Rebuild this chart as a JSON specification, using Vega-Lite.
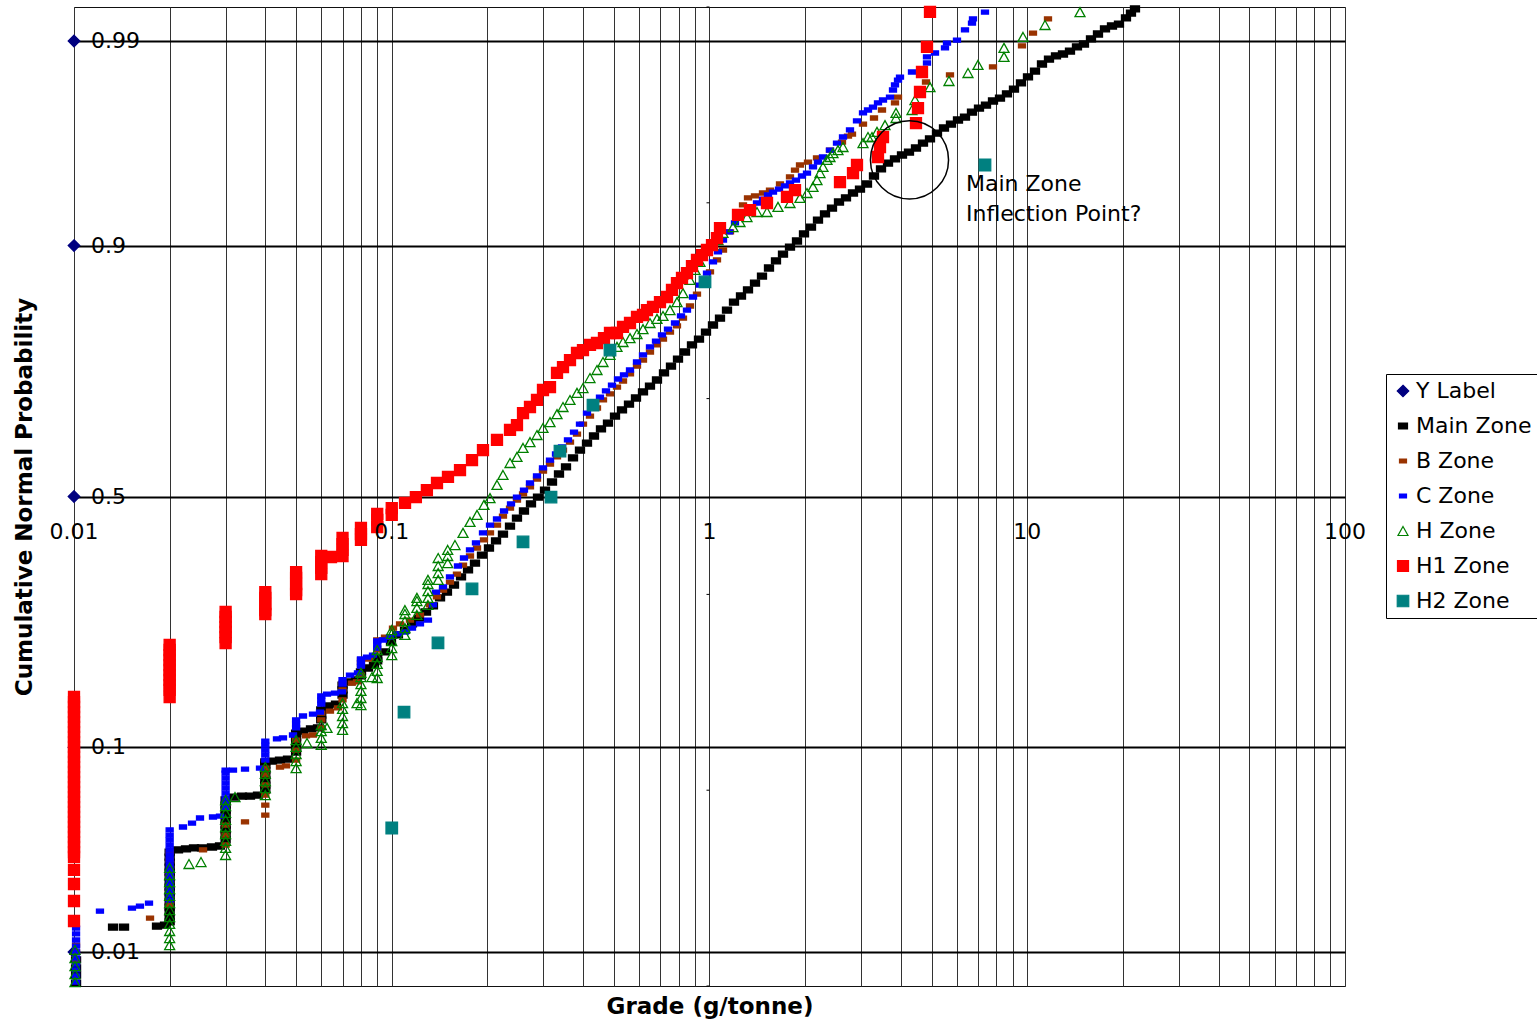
{
"$schema": "https://vega.github.io/schema/vega-lite/v6.json",
"width": 1271, "height": 979,
"autosize": {"type": "none"},
"padding": {"left": 74, "top": 7, "right": 192, "bottom": 37},
"background": "white",
"config": {"font": "DejaVu Sans", "view": {"stroke": "#111", "strokeWidth": 1}},
"datasets": {
"pts": [
{"s":"Y Label","x":0.01,"z":-2.3263},{"s":"Y Label","x":0.01,"z":-1.2816},{"s":"Y Label","x":0.01,"z":0},{"s":"Y Label","x":0.01,"z":1.2816},{"s":"Y Label","x":0.01,"z":2.3263},
{"s":"Main Zone","x":0.01015,"z":-2.485},{"s":"Main Zone","x":0.01015,"z":-2.444},{"s":"Main Zone","x":0.01015,"z":-2.408},{"s":"Main Zone","x":0.01015,"z":-2.367},
{"s":"Main Zone","x":0.01327,"z":-2.199},{"s":"Main Zone","x":0.01437,"z":-2.199},{"s":"Main Zone","x":0.01825,"z":-2.194},{"s":"Main Zone","x":0.01934,"z":-2.189},
{"s":"Main Zone","x":0.02,"z":-2.173},{"s":"Main Zone","x":0.02,"z":-2.148},{"s":"Main Zone","x":0.02,"z":-2.122},{"s":"Main Zone","x":0.02,"z":-2.097},{"s":"Main Zone","x":0.02,"z":-2.071},{"s":"Main Zone","x":0.02,"z":-2.046},{"s":"Main Zone","x":0.02,"z":-2.02},{"s":"Main Zone","x":0.02,"z":-1.995},{"s":"Main Zone","x":0.02,"z":-1.969},{"s":"Main Zone","x":0.02,"z":-1.944},{"s":"Main Zone","x":0.02,"z":-1.918},{"s":"Main Zone","x":0.02,"z":-1.893},{"s":"Main Zone","x":0.02,"z":-1.867},{"s":"Main Zone","x":0.02,"z":-1.842},{"s":"Main Zone","x":0.02,"z":-1.816},
{"s":"Main Zone","x":0.02125,"z":-1.805},{"s":"Main Zone","x":0.02251,"z":-1.8},{"s":"Main Zone","x":0.02386,"z":-1.795},{"s":"Main Zone","x":0.02528,"z":-1.795},{"s":"Main Zone","x":0.02718,"z":-1.79},{"s":"Main Zone","x":0.02881,"z":-1.785},
{"s":"Main Zone","x":0.03,"z":-1.754},{"s":"Main Zone","x":0.03,"z":-1.729},{"s":"Main Zone","x":0.03,"z":-1.703},{"s":"Main Zone","x":0.03,"z":-1.678},{"s":"Main Zone","x":0.03,"z":-1.652},{"s":"Main Zone","x":0.03,"z":-1.627},{"s":"Main Zone","x":0.03,"z":-1.601},{"s":"Main Zone","x":0.03,"z":-1.576},{"s":"Main Zone","x":0.03,"z":-1.55},
{"s":"Main Zone","x":0.03188,"z":-1.535},{"s":"Main Zone","x":0.03378,"z":-1.53},{"s":"Main Zone","x":0.0358,"z":-1.53},{"s":"Main Zone","x":0.03794,"z":-1.525},
{"s":"Main Zone","x":0.04,"z":-1.499},{"s":"Main Zone","x":0.04,"z":-1.474},{"s":"Main Zone","x":0.04,"z":-1.448},{"s":"Main Zone","x":0.04,"z":-1.423},{"s":"Main Zone","x":0.04,"z":-1.397},{"s":"Main Zone","x":0.04,"z":-1.372},{"s":"Main Zone","x":0.04,"z":-1.356},
{"s":"Main Zone","x":0.04199,"z":-1.351},{"s":"Main Zone","x":0.04449,"z":-1.346},{"s":"Main Zone","x":0.04715,"z":-1.341},
{"s":"Main Zone","x":0.05,"z":-1.305},{"s":"Main Zone","x":0.05,"z":-1.28},{"s":"Main Zone","x":0.05,"z":-1.254},{"s":"Main Zone","x":0.05,"z":-1.229},{"s":"Main Zone","x":0.05,"z":-1.208},
{"s":"Main Zone","x":0.05256,"z":-1.198},{"s":"Main Zone","x":0.0557,"z":-1.187},{"s":"Main Zone","x":0.0586,"z":-1.182},
{"s":"Main Zone","x":0.06,"z":-1.141},{"s":"Main Zone","x":0.06,"z":-1.116},{"s":"Main Zone","x":0.06,"z":-1.09},
{"s":"Main Zone","x":0.063,"z":-1.07},{"s":"Main Zone","x":0.06676,"z":-1.06},
{"s":"Main Zone","x":0.07,"z":-1.014},{"s":"Main Zone","x":0.07,"z":-0.988},{"s":"Main Zone","x":0.07,"z":-0.963},
{"s":"Main Zone","x":0.07389,"z":-0.947},{"s":"Main Zone","x":0.07718,"z":-0.937},
{"s":"Main Zone","x":0.08,"z":-0.916},{"s":"Main Zone","x":0.08,"z":-0.896},
{"s":"Main Zone","x":0.08419,"z":-0.876},{"s":"Main Zone","x":0.08793,"z":-0.861},
{"s":"Main Zone","x":0.09,"z":-0.84},{"s":"Main Zone","x":0.09,"z":-0.82},
{"s":"Main Zone","x":0.09522,"z":-0.794},{"s":"Main Zone","x":0.09946,"z":-0.743},{"s":"Main Zone","x":0.1046,"z":-0.707},{"s":"Main Zone","x":0.1101,"z":-0.682},{"s":"Main Zone","x":0.1158,"z":-0.651},{"s":"Main Zone","x":0.1218,"z":-0.621},{"s":"Main Zone","x":0.1282,"z":-0.59},{"s":"Main Zone","x":0.1348,"z":-0.559},{"s":"Main Zone","x":0.1419,"z":-0.518},{"s":"Main Zone","x":0.1492,"z":-0.488},{"s":"Main Zone","x":0.157,"z":-0.452},{"s":"Main Zone","x":0.1652,"z":-0.411},{"s":"Main Zone","x":0.1738,"z":-0.375},{"s":"Main Zone","x":0.1828,"z":-0.34},{"s":"Main Zone","x":0.1923,"z":-0.299},{"s":"Main Zone","x":0.2023,"z":-0.263},{"s":"Main Zone","x":0.2129,"z":-0.227},{"s":"Main Zone","x":0.2239,"z":-0.192},{"s":"Main Zone","x":0.2356,"z":-0.151},{"s":"Main Zone","x":0.2478,"z":-0.11},{"s":"Main Zone","x":0.2607,"z":-0.074},{"s":"Main Zone","x":0.2743,"z":-0.038},{"s":"Main Zone","x":0.2886,"z":-0.003},{"s":"Main Zone","x":0.3036,"z":0.033},{"s":"Main Zone","x":0.3194,"z":0.074},{"s":"Main Zone","x":0.336,"z":0.115},{"s":"Main Zone","x":0.3535,"z":0.151},{"s":"Main Zone","x":0.3719,"z":0.197},{"s":"Main Zone","x":0.3912,"z":0.237},{"s":"Main Zone","x":0.4116,"z":0.273},{"s":"Main Zone","x":0.433,"z":0.309},{"s":"Main Zone","x":0.4555,"z":0.345},{"s":"Main Zone","x":0.4792,"z":0.375},{"s":"Main Zone","x":0.5042,"z":0.411},{"s":"Main Zone","x":0.5304,"z":0.442},{"s":"Main Zone","x":0.558,"z":0.472},{"s":"Main Zone","x":0.587,"z":0.503},{"s":"Main Zone","x":0.6176,"z":0.534},{"s":"Main Zone","x":0.6497,"z":0.564},{"s":"Main Zone","x":0.6835,"z":0.595},{"s":"Main Zone","x":0.7191,"z":0.631},{"s":"Main Zone","x":0.7565,"z":0.666},{"s":"Main Zone","x":0.7959,"z":0.702},{"s":"Main Zone","x":0.8373,"z":0.738},{"s":"Main Zone","x":0.8808,"z":0.774},{"s":"Main Zone","x":0.9267,"z":0.804},{"s":"Main Zone","x":0.9749,"z":0.84},{"s":"Main Zone","x":1.0256,"z":0.876},{"s":"Main Zone","x":1.0791,"z":0.911},{"s":"Main Zone","x":1.1352,"z":0.952},{"s":"Main Zone","x":1.1943,"z":0.993},{"s":"Main Zone","x":1.2564,"z":1.024},{"s":"Main Zone","x":1.3218,"z":1.055},{"s":"Main Zone","x":1.3906,"z":1.09},{"s":"Main Zone","x":1.4629,"z":1.126},{"s":"Main Zone","x":1.539,"z":1.167},{"s":"Main Zone","x":1.6191,"z":1.203},{"s":"Main Zone","x":1.7034,"z":1.238},{"s":"Main Zone","x":1.792,"z":1.274},{"s":"Main Zone","x":1.8852,"z":1.305},{"s":"Main Zone","x":1.9833,"z":1.341},{"s":"Main Zone","x":2.0866,"z":1.376},{"s":"Main Zone","x":2.1951,"z":1.412},{"s":"Main Zone","x":2.3093,"z":1.443},{"s":"Main Zone","x":2.4295,"z":1.473},{"s":"Main Zone","x":2.5558,"z":1.504},{"s":"Main Zone","x":2.6888,"z":1.525},{"s":"Main Zone","x":2.8288,"z":1.55},{"s":"Main Zone","x":2.976,"z":1.57},{"s":"Main Zone","x":3.1308,"z":1.596},{"s":"Main Zone","x":3.2937,"z":1.637},{"s":"Main Zone","x":3.4652,"z":1.673},{"s":"Main Zone","x":3.6454,"z":1.703},{"s":"Main Zone","x":3.8351,"z":1.724},{"s":"Main Zone","x":4.0346,"z":1.744},{"s":"Main Zone","x":4.2444,"z":1.759},{"s":"Main Zone","x":4.4653,"z":1.78},{"s":"Main Zone","x":4.6978,"z":1.805},{"s":"Main Zone","x":4.9422,"z":1.826},{"s":"Main Zone","x":5.1992,"z":1.856},{"s":"Main Zone","x":5.4698,"z":1.882},{"s":"Main Zone","x":5.7546,"z":1.902},{"s":"Main Zone","x":6.0539,"z":1.923},{"s":"Main Zone","x":6.3689,"z":1.938},{"s":"Main Zone","x":6.7003,"z":1.963},{"s":"Main Zone","x":7.0488,"z":1.984},{"s":"Main Zone","x":7.4155,"z":1.999},{"s":"Main Zone","x":7.8016,"z":2.02},{"s":"Main Zone","x":8.2075,"z":2.035},{"s":"Main Zone","x":8.6344,"z":2.056},{"s":"Main Zone","x":9.0838,"z":2.081},{"s":"Main Zone","x":9.5568,"z":2.112},{"s":"Main Zone","x":10.054,"z":2.143},{"s":"Main Zone","x":10.577,"z":2.173},{"s":"Main Zone","x":11.127,"z":2.209},{"s":"Main Zone","x":11.706,"z":2.234},{"s":"Main Zone","x":12.315,"z":2.25},{"s":"Main Zone","x":12.956,"z":2.26},{"s":"Main Zone","x":13.63,"z":2.275},{"s":"Main Zone","x":14.339,"z":2.296},{"s":"Main Zone","x":15.085,"z":2.311},{"s":"Main Zone","x":15.871,"z":2.337},{"s":"Main Zone","x":16.696,"z":2.362},{"s":"Main Zone","x":17.565,"z":2.388},{"s":"Main Zone","x":18.479,"z":2.403},{"s":"Main Zone","x":19.44,"z":2.413},{"s":"Main Zone","x":20.451,"z":2.444},{"s":"Main Zone","x":21.207,"z":2.469},{"s":"Main Zone","x":21.83,"z":2.49},
{"s":"B Zone","x":0.01015,"z":-2.291},{"s":"B Zone","x":0.01015,"z":-2.326},{"s":"B Zone","x":0.01015,"z":-2.367},{"s":"B Zone","x":0.01735,"z":-2.153},
{"s":"B Zone","x":0.02,"z":-2.086},{"s":"B Zone","x":0.02,"z":-2.01},{"s":"B Zone","x":0.02,"z":-1.933},{"s":"B Zone","x":0.02,"z":-1.856},{"s":"B Zone","x":0.02,"z":-1.816},{"s":"B Zone","x":0.02547,"z":-1.805},
{"s":"B Zone","x":0.03,"z":-1.78},{"s":"B Zone","x":0.03,"z":-1.729},{"s":"B Zone","x":0.03,"z":-1.678},{"s":"B Zone","x":0.03453,"z":-1.662},
{"s":"B Zone","x":0.04,"z":-1.627},{"s":"B Zone","x":0.04,"z":-1.576},{"s":"B Zone","x":0.04,"z":-1.525},{"s":"B Zone","x":0.04,"z":-1.473},{"s":"B Zone","x":0.04,"z":-1.422},{"s":"B Zone","x":0.04,"z":-1.387},{"s":"B Zone","x":0.04449,"z":-1.382},{"s":"B Zone","x":0.04647,"z":-1.376},
{"s":"B Zone","x":0.05,"z":-1.346},{"s":"B Zone","x":0.05,"z":-1.295},{"s":"B Zone","x":0.05,"z":-1.244},{"s":"B Zone","x":0.05372,"z":-1.223},{"s":"B Zone","x":0.05651,"z":-1.218},
{"s":"B Zone","x":0.06,"z":-1.182},{"s":"B Zone","x":0.06,"z":-1.141},{"s":"B Zone","x":0.06,"z":-1.106},{"s":"B Zone","x":0.06392,"z":-1.096},{"s":"B Zone","x":0.06774,"z":-1.08},
{"s":"B Zone","x":0.07,"z":-1.039},{"s":"B Zone","x":0.07,"z":-0.988},{"s":"B Zone","x":0.07,"z":-0.953},{"s":"B Zone","x":0.07496,"z":-0.953},{"s":"B Zone","x":0.07774,"z":-0.947},
{"s":"B Zone","x":0.08,"z":-0.912},{"s":"B Zone","x":0.08,"z":-0.861},{"s":"B Zone","x":0.08,"z":-0.835},{"s":"B Zone","x":0.0848,"z":-0.83},
{"s":"B Zone","x":0.09,"z":-0.784},{"s":"B Zone","x":0.09,"z":-0.733},
{"s":"B Zone","x":0.09522,"z":-0.718},{"s":"B Zone","x":0.1009,"z":-0.672},{"s":"B Zone","x":0.1062,"z":-0.651},{"s":"B Zone","x":0.1141,"z":-0.631},{"s":"B Zone","x":0.1227,"z":-0.605},{"s":"B Zone","x":0.1319,"z":-0.554},{"s":"B Zone","x":0.1388,"z":-0.513},{"s":"B Zone","x":0.145,"z":-0.478},{"s":"B Zone","x":0.1525,"z":-0.437},{"s":"B Zone","x":0.1604,"z":-0.396},{"s":"B Zone","x":0.1676,"z":-0.35},{"s":"B Zone","x":0.1763,"z":-0.304},{"s":"B Zone","x":0.1855,"z":-0.263},{"s":"B Zone","x":0.1951,"z":-0.222},{"s":"B Zone","x":0.2038,"z":-0.186},{"s":"B Zone","x":0.2144,"z":-0.146},{"s":"B Zone","x":0.2239,"z":-0.1},{"s":"B Zone","x":0.2356,"z":-0.059},{"s":"B Zone","x":0.2478,"z":-0.018},{"s":"B Zone","x":0.2589,"z":0.013},{"s":"B Zone","x":0.2723,"z":0.049},{"s":"B Zone","x":0.2865,"z":0.089},{"s":"B Zone","x":0.2992,"z":0.13},{"s":"B Zone","x":0.3148,"z":0.166},{"s":"B Zone","x":0.3312,"z":0.202},{"s":"B Zone","x":0.3459,"z":0.237},{"s":"B Zone","x":0.3639,"z":0.278},{"s":"B Zone","x":0.3828,"z":0.319},{"s":"B Zone","x":0.3998,"z":0.37},{"s":"B Zone","x":0.4206,"z":0.411},{"s":"B Zone","x":0.4425,"z":0.452},{"s":"B Zone","x":0.4622,"z":0.493},{"s":"B Zone","x":0.4862,"z":0.524},{"s":"B Zone","x":0.5115,"z":0.559},{"s":"B Zone","x":0.5343,"z":0.59},{"s":"B Zone","x":0.5621,"z":0.626},{"s":"B Zone","x":0.5913,"z":0.666},{"s":"B Zone","x":0.6176,"z":0.697},{"s":"B Zone","x":0.6497,"z":0.738},{"s":"B Zone","x":0.6835,"z":0.774},{"s":"B Zone","x":0.7139,"z":0.804},{"s":"B Zone","x":0.751,"z":0.84},{"s":"B Zone","x":0.7901,"z":0.871},{"s":"B Zone","x":0.8252,"z":0.911},{"s":"B Zone","x":0.8682,"z":0.973},{"s":"B Zone","x":0.9133,"z":1.034},{"s":"B Zone","x":0.954,"z":1.085},{"s":"B Zone","x":1.0036,"z":1.147},{"s":"B Zone","x":1.0558,"z":1.208},{"s":"B Zone","x":1.1028,"z":1.259},{"s":"B Zone","x":1.1601,"z":1.351},{"s":"B Zone","x":1.2205,"z":1.453},{"s":"B Zone","x":1.2748,"z":1.489},{"s":"B Zone","x":1.3218,"z":1.525},{"s":"B Zone","x":1.3906,"z":1.535},{"s":"B Zone","x":1.4736,"z":1.55},{"s":"B Zone","x":1.5502,"z":1.565},{"s":"B Zone","x":1.6667,"z":1.596},{"s":"B Zone","x":1.792,"z":1.632},{"s":"B Zone","x":1.8581,"z":1.667},{"s":"B Zone","x":1.9267,"z":1.693},{"s":"B Zone","x":2.0416,"z":1.708},{"s":"B Zone","x":2.1792,"z":1.729},{"s":"B Zone","x":2.3945,"z":1.769},{"s":"B Zone","x":2.612,"z":1.81},{"s":"B Zone","x":2.7281,"z":1.841},{"s":"B Zone","x":2.8083,"z":1.851},{"s":"B Zone","x":3.0414,"z":1.902},{"s":"B Zone","x":3.2937,"z":1.933},{"s":"B Zone","x":3.4903,"z":1.974},{"s":"B Zone","x":3.8351,"z":2.01},{"s":"B Zone","x":3.9194,"z":2.04},{"s":"B Zone","x":4.8011,"z":2.117},{"s":"B Zone","x":5.7129,"z":2.153},{"s":"B Zone","x":7.8016,"z":2.194},{"s":"B Zone","x":9.626,"z":2.301},{"s":"B Zone","x":10.425,"z":2.367},{"s":"B Zone","x":11.622,"z":2.439},
{"s":"C Zone","x":0.01015,"z":-2.204},{"s":"C Zone","x":0.01015,"z":-2.234},{"s":"C Zone","x":0.01015,"z":-2.265},{"s":"C Zone","x":0.01015,"z":-2.296},{"s":"C Zone","x":0.01015,"z":-2.326},{"s":"C Zone","x":0.01015,"z":-2.357},{"s":"C Zone","x":0.01015,"z":-2.388},{"s":"C Zone","x":0.01015,"z":-2.418},{"s":"C Zone","x":0.01015,"z":-2.449},{"s":"C Zone","x":0.01015,"z":-2.48},
{"s":"C Zone","x":0.01207,"z":-2.118},{"s":"C Zone","x":0.01522,"z":-2.102},{"s":"C Zone","x":0.01613,"z":-2.092},{"s":"C Zone","x":0.01722,"z":-2.077},
{"s":"C Zone","x":0.02,"z":-2.061},{"s":"C Zone","x":0.02,"z":-2.035},{"s":"C Zone","x":0.02,"z":-2.01},{"s":"C Zone","x":0.02,"z":-1.984},{"s":"C Zone","x":0.02,"z":-1.959},{"s":"C Zone","x":0.02,"z":-1.933},{"s":"C Zone","x":0.02,"z":-1.908},{"s":"C Zone","x":0.02,"z":-1.882},{"s":"C Zone","x":0.02,"z":-1.856},{"s":"C Zone","x":0.02,"z":-1.831},{"s":"C Zone","x":0.02,"z":-1.805},{"s":"C Zone","x":0.02,"z":-1.78},{"s":"C Zone","x":0.02,"z":-1.754},{"s":"C Zone","x":0.02,"z":-1.729},{"s":"C Zone","x":0.02,"z":-1.703},
{"s":"C Zone","x":0.02203,"z":-1.688},{"s":"C Zone","x":0.02352,"z":-1.668},{"s":"C Zone","x":0.02492,"z":-1.642},{"s":"C Zone","x":0.02738,"z":-1.637},{"s":"C Zone","x":0.02881,"z":-1.632},
{"s":"C Zone","x":0.03,"z":-1.591},{"s":"C Zone","x":0.03,"z":-1.566},{"s":"C Zone","x":0.03,"z":-1.54},{"s":"C Zone","x":0.03,"z":-1.515},{"s":"C Zone","x":0.03,"z":-1.489},{"s":"C Zone","x":0.03,"z":-1.464},{"s":"C Zone","x":0.03,"z":-1.438},{"s":"C Zone","x":0.03,"z":-1.413},{"s":"C Zone","x":0.03,"z":-1.397},
{"s":"C Zone","x":0.03165,"z":-1.397},{"s":"C Zone","x":0.03453,"z":-1.392},{"s":"C Zone","x":0.03849,"z":-1.387},
{"s":"C Zone","x":0.04,"z":-1.346},{"s":"C Zone","x":0.04,"z":-1.32},{"s":"C Zone","x":0.04,"z":-1.295},{"s":"C Zone","x":0.04,"z":-1.27},{"s":"C Zone","x":0.04,"z":-1.249},
{"s":"C Zone","x":0.04353,"z":-1.238},{"s":"C Zone","x":0.04547,"z":-1.233},{"s":"C Zone","x":0.04889,"z":-1.218},
{"s":"C Zone","x":0.05,"z":-1.182},{"s":"C Zone","x":0.05,"z":-1.162},{"s":"C Zone","x":0.05,"z":-1.141},
{"s":"C Zone","x":0.05256,"z":-1.121},{"s":"C Zone","x":0.05651,"z":-1.111},{"s":"C Zone","x":0.05946,"z":-1.101},
{"s":"C Zone","x":0.06,"z":-1.06},{"s":"C Zone","x":0.06,"z":-1.04},{"s":"C Zone","x":0.06,"z":-1.019},
{"s":"C Zone","x":0.06255,"z":-1.009},{"s":"C Zone","x":0.06628,"z":-1.004},{"s":"C Zone","x":0.06973,"z":-0.998},
{"s":"C Zone","x":0.07,"z":-0.958},{"s":"C Zone","x":0.07,"z":-0.935},
{"s":"C Zone","x":0.07389,"z":-0.912},{"s":"C Zone","x":0.0783,"z":-0.901},
{"s":"C Zone","x":0.08,"z":-0.866},{"s":"C Zone","x":0.08,"z":-0.848},{"s":"C Zone","x":0.08,"z":-0.83},
{"s":"C Zone","x":0.08358,"z":-0.82},{"s":"C Zone","x":0.0873,"z":-0.81},
{"s":"C Zone","x":0.09,"z":-0.774},{"s":"C Zone","x":0.09,"z":-0.756},{"s":"C Zone","x":0.09,"z":-0.738},
{"s":"C Zone","x":0.09386,"z":-0.733},{"s":"C Zone","x":0.09874,"z":-0.718},{"s":"C Zone","x":0.1046,"z":-0.702},{"s":"C Zone","x":0.1101,"z":-0.692},{"s":"C Zone","x":0.1158,"z":-0.672},{"s":"C Zone","x":0.1227,"z":-0.651},{"s":"C Zone","x":0.13,"z":-0.631},{"s":"C Zone","x":0.1348,"z":-0.554},{"s":"C Zone","x":0.1378,"z":-0.488},{"s":"C Zone","x":0.145,"z":-0.462},{"s":"C Zone","x":0.1525,"z":-0.411},{"s":"C Zone","x":0.1616,"z":-0.355},{"s":"C Zone","x":0.1688,"z":-0.314},{"s":"C Zone","x":0.1763,"z":-0.273},{"s":"C Zone","x":0.1841,"z":-0.237},{"s":"C Zone","x":0.1937,"z":-0.186},{"s":"C Zone","x":0.2038,"z":-0.146},{"s":"C Zone","x":0.2144,"z":-0.115},{"s":"C Zone","x":0.2256,"z":-0.074},{"s":"C Zone","x":0.2373,"z":-0.038},{"s":"C Zone","x":0.2478,"z":-0.003},{"s":"C Zone","x":0.2607,"z":0.033},{"s":"C Zone","x":0.2723,"z":0.069},{"s":"C Zone","x":0.2865,"z":0.105},{"s":"C Zone","x":0.2992,"z":0.146},{"s":"C Zone","x":0.3148,"z":0.186},{"s":"C Zone","x":0.3288,"z":0.217},{"s":"C Zone","x":0.3434,"z":0.253},{"s":"C Zone","x":0.3586,"z":0.289},{"s":"C Zone","x":0.3746,"z":0.329},{"s":"C Zone","x":0.3912,"z":0.37},{"s":"C Zone","x":0.4116,"z":0.426},{"s":"C Zone","x":0.4299,"z":0.467},{"s":"C Zone","x":0.4522,"z":0.508},{"s":"C Zone","x":0.4723,"z":0.539},{"s":"C Zone","x":0.4933,"z":0.569},{"s":"C Zone","x":0.5153,"z":0.6},{"s":"C Zone","x":0.5381,"z":0.621},{"s":"C Zone","x":0.5621,"z":0.646},{"s":"C Zone","x":0.5913,"z":0.687},{"s":"C Zone","x":0.6176,"z":0.723},{"s":"C Zone","x":0.6497,"z":0.764},{"s":"C Zone","x":0.6786,"z":0.794},{"s":"C Zone","x":0.7087,"z":0.825},{"s":"C Zone","x":0.7402,"z":0.855},{"s":"C Zone","x":0.7788,"z":0.886},{"s":"C Zone","x":0.8134,"z":0.922},{"s":"C Zone","x":0.8495,"z":0.952},{"s":"C Zone","x":0.8873,"z":1.019},{"s":"C Zone","x":0.9334,"z":1.08},{"s":"C Zone","x":0.982,"z":1.141},{"s":"C Zone","x":1.0256,"z":1.198},{"s":"C Zone","x":1.0635,"z":1.249},{"s":"C Zone","x":1.1028,"z":1.31},{"s":"C Zone","x":1.1517,"z":1.351},{"s":"C Zone","x":1.203,"z":1.397},{"s":"C Zone","x":1.2473,"z":1.427},{"s":"C Zone","x":1.3028,"z":1.453},{"s":"C Zone","x":1.3607,"z":1.479},{"s":"C Zone","x":1.4108,"z":1.499},{"s":"C Zone","x":1.4736,"z":1.519},{"s":"C Zone","x":1.5279,"z":1.54},{"s":"C Zone","x":1.5843,"z":1.555},{"s":"C Zone","x":1.6547,"z":1.57},{"s":"C Zone","x":1.7282,"z":1.586},{"s":"C Zone","x":1.792,"z":1.601},{"s":"C Zone","x":1.8716,"z":1.616},{"s":"C Zone","x":1.9548,"z":1.637},{"s":"C Zone","x":2.0269,"z":1.652},{"s":"C Zone","x":2.117,"z":1.683},{"s":"C Zone","x":2.1951,"z":1.708},{"s":"C Zone","x":2.2761,"z":1.734},{"s":"C Zone","x":2.3945,"z":1.769},{"s":"C Zone","x":2.5191,"z":1.805},{"s":"C Zone","x":2.6311,"z":1.836},{"s":"C Zone","x":2.7679,"z":1.872},{"s":"C Zone","x":2.9119,"z":1.918},{"s":"C Zone","x":3.0414,"z":1.959},{"s":"C Zone","x":3.1536,"z":1.974},{"s":"C Zone","x":3.27,"z":1.989},{"s":"C Zone","x":3.3906,"z":2.01},{"s":"C Zone","x":3.5157,"z":2.025},{"s":"C Zone","x":3.6986,"z":2.04},{"s":"C Zone","x":3.78,"z":2.076},{"s":"C Zone","x":3.8351,"z":2.102},{"s":"C Zone","x":3.9194,"z":2.127},{"s":"C Zone","x":3.9766,"z":2.142},{"s":"C Zone","x":4.3378,"z":2.168},{"s":"C Zone","x":4.8358,"z":2.214},{"s":"C Zone","x":4.8358,"z":2.245},{"s":"C Zone","x":5.1246,"z":2.265},{"s":"C Zone","x":5.5096,"z":2.291},{"s":"C Zone","x":5.5899,"z":2.316},{"s":"C Zone","x":6.0101,"z":2.331},{"s":"C Zone","x":6.3689,"z":2.383},{"s":"C Zone","x":6.7003,"z":2.418},{"s":"C Zone","x":6.7491,"z":2.439},{"s":"C Zone","x":7.3622,"z":2.474},
{"s":"H Zone","x":0.01007,"z":-2.316},{"s":"H Zone","x":0.01007,"z":-2.357},{"s":"H Zone","x":0.01007,"z":-2.398},{"s":"H Zone","x":0.01007,"z":-2.439},{"s":"H Zone","x":0.01007,"z":-2.48},
{"s":"H Zone","x":0.02,"z":-2.291},{"s":"H Zone","x":0.02,"z":-2.255},{"s":"H Zone","x":0.02,"z":-2.219},{"s":"H Zone","x":0.02,"z":-2.183},{"s":"H Zone","x":0.02,"z":-2.148},{"s":"H Zone","x":0.02,"z":-2.112},{"s":"H Zone","x":0.02,"z":-2.076},{"s":"H Zone","x":0.02,"z":-2.04},{"s":"H Zone","x":0.02,"z":-2.005},{"s":"H Zone","x":0.02,"z":-1.969},{"s":"H Zone","x":0.02,"z":-1.933},{"s":"H Zone","x":0.02,"z":-1.897},
{"s":"H Zone","x":0.02301,"z":-1.877},{"s":"H Zone","x":0.0251,"z":-1.867},
{"s":"H Zone","x":0.03,"z":-1.831},{"s":"H Zone","x":0.03,"z":-1.795},{"s":"H Zone","x":0.03,"z":-1.759},{"s":"H Zone","x":0.03,"z":-1.724},{"s":"H Zone","x":0.03,"z":-1.688},{"s":"H Zone","x":0.03,"z":-1.652},{"s":"H Zone","x":0.03,"z":-1.616},{"s":"H Zone","x":0.03,"z":-1.581},{"s":"H Zone","x":0.03,"z":-1.55},
{"s":"H Zone","x":0.03211,"z":-1.535},
{"s":"H Zone","x":0.04,"z":-1.525},{"s":"H Zone","x":0.04,"z":-1.489},{"s":"H Zone","x":0.04,"z":-1.453},{"s":"H Zone","x":0.04,"z":-1.417},{"s":"H Zone","x":0.04,"z":-1.382},
{"s":"H Zone","x":0.05,"z":-1.387},{"s":"H Zone","x":0.05,"z":-1.351},{"s":"H Zone","x":0.05,"z":-1.315},{"s":"H Zone","x":0.05,"z":-1.279},{"s":"H Zone","x":0.05,"z":-1.244},
{"s":"H Zone","x":0.05411,"z":-1.259},
{"s":"H Zone","x":0.06,"z":-1.269},{"s":"H Zone","x":0.06,"z":-1.233},{"s":"H Zone","x":0.06,"z":-1.198},{"s":"H Zone","x":0.06,"z":-1.167},
{"s":"H Zone","x":0.06255,"z":-1.182},
{"s":"H Zone","x":0.07,"z":-1.192},{"s":"H Zone","x":0.07,"z":-1.157},{"s":"H Zone","x":0.07,"z":-1.121},{"s":"H Zone","x":0.07,"z":-1.085},{"s":"H Zone","x":0.07,"z":-1.055},
{"s":"H Zone","x":0.07774,"z":-1.055},
{"s":"H Zone","x":0.08,"z":-1.065},{"s":"H Zone","x":0.08,"z":-1.029},{"s":"H Zone","x":0.08,"z":-0.993},{"s":"H Zone","x":0.08,"z":-0.958},{"s":"H Zone","x":0.08,"z":-0.922},{"s":"H Zone","x":0.08,"z":-0.901},
{"s":"H Zone","x":0.08666,"z":-0.922},
{"s":"H Zone","x":0.09,"z":-0.927},{"s":"H Zone","x":0.09,"z":-0.891},{"s":"H Zone","x":0.09,"z":-0.855},{"s":"H Zone","x":0.09,"z":-0.82},{"s":"H Zone","x":0.09,"z":-0.784},
{"s":"H Zone","x":0.1,"z":-0.81},{"s":"H Zone","x":0.1,"z":-0.774},{"s":"H Zone","x":0.1,"z":-0.738},{"s":"H Zone","x":0.1,"z":-0.702},{"s":"H Zone","x":0.1,"z":-0.682},
{"s":"H Zone","x":0.11,"z":-0.707},{"s":"H Zone","x":0.11,"z":-0.672},{"s":"H Zone","x":0.11,"z":-0.636},{"s":"H Zone","x":0.11,"z":-0.6},{"s":"H Zone","x":0.11,"z":-0.58},
{"s":"H Zone","x":0.12,"z":-0.605},{"s":"H Zone","x":0.12,"z":-0.569},{"s":"H Zone","x":0.12,"z":-0.534},{"s":"H Zone","x":0.12,"z":-0.518},
{"s":"H Zone","x":0.13,"z":-0.554},{"s":"H Zone","x":0.13,"z":-0.518},{"s":"H Zone","x":0.13,"z":-0.483},{"s":"H Zone","x":0.13,"z":-0.447},{"s":"H Zone","x":0.13,"z":-0.426},
{"s":"H Zone","x":0.14,"z":-0.426},{"s":"H Zone","x":0.14,"z":-0.391},{"s":"H Zone","x":0.14,"z":-0.355},{"s":"H Zone","x":0.14,"z":-0.314},
{"s":"H Zone","x":0.15,"z":-0.34},{"s":"H Zone","x":0.15,"z":-0.304},{"s":"H Zone","x":0.15,"z":-0.273},
{"s":"H Zone","x":0.1581,"z":-0.248},{"s":"H Zone","x":0.1676,"z":-0.186},{"s":"H Zone","x":0.1763,"z":-0.13},{"s":"H Zone","x":0.1855,"z":-0.094},{"s":"H Zone","x":0.1951,"z":-0.043},{"s":"H Zone","x":0.2038,"z":-0.008},{"s":"H Zone","x":0.2144,"z":0.059},{"s":"H Zone","x":0.2239,"z":0.11},{"s":"H Zone","x":0.2356,"z":0.171},{"s":"H Zone","x":0.2478,"z":0.202},{"s":"H Zone","x":0.2589,"z":0.248},{"s":"H Zone","x":0.2723,"z":0.278},{"s":"H Zone","x":0.2865,"z":0.314},{"s":"H Zone","x":0.2992,"z":0.35},{"s":"H Zone","x":0.3148,"z":0.38},{"s":"H Zone","x":0.3312,"z":0.421},{"s":"H Zone","x":0.3459,"z":0.457},{"s":"H Zone","x":0.3639,"z":0.493},{"s":"H Zone","x":0.3828,"z":0.529},{"s":"H Zone","x":0.3998,"z":0.554},{"s":"H Zone","x":0.4206,"z":0.605},{"s":"H Zone","x":0.4425,"z":0.646},{"s":"H Zone","x":0.4622,"z":0.687},{"s":"H Zone","x":0.4862,"z":0.723},{"s":"H Zone","x":0.5115,"z":0.764},{"s":"H Zone","x":0.5343,"z":0.789},{"s":"H Zone","x":0.5621,"z":0.809},{"s":"H Zone","x":0.5913,"z":0.83},{"s":"H Zone","x":0.6176,"z":0.855},{"s":"H Zone","x":0.6497,"z":0.886},{"s":"H Zone","x":0.6835,"z":0.907},{"s":"H Zone","x":0.7139,"z":0.922},{"s":"H Zone","x":0.751,"z":0.952},{"s":"H Zone","x":0.7901,"z":0.993},{"s":"H Zone","x":0.8252,"z":1.039},{"s":"H Zone","x":0.8682,"z":1.106},{"s":"H Zone","x":0.9002,"z":1.157},{"s":"H Zone","x":0.9334,"z":1.198},{"s":"H Zone","x":0.982,"z":1.259},{"s":"H Zone","x":1.0256,"z":1.284},{"s":"H Zone","x":1.0635,"z":1.31},{"s":"H Zone","x":1.1028,"z":1.346},{"s":"H Zone","x":1.1857,"z":1.376},{"s":"H Zone","x":1.2473,"z":1.402},{"s":"H Zone","x":1.3122,"z":1.427},{"s":"H Zone","x":1.4108,"z":1.453},{"s":"H Zone","x":1.5169,"z":1.453},{"s":"H Zone","x":1.6427,"z":1.479},{"s":"H Zone","x":1.792,"z":1.499},{"s":"H Zone","x":1.9267,"z":1.525},{"s":"H Zone","x":2.0269,"z":1.55},{"s":"H Zone","x":2.117,"z":1.581},{"s":"H Zone","x":2.1792,"z":1.616},{"s":"H Zone","x":2.2271,"z":1.652},{"s":"H Zone","x":2.2761,"z":1.683},{"s":"H Zone","x":2.343,"z":1.719},{"s":"H Zone","x":2.3945,"z":1.734},{"s":"H Zone","x":2.4472,"z":1.754},{"s":"H Zone","x":2.5374,"z":1.769},{"s":"H Zone","x":2.6311,"z":1.785},{"s":"H Zone","x":3.0414,"z":1.805},{"s":"H Zone","x":3.1536,"z":1.836},{"s":"H Zone","x":3.2463,"z":1.836},{"s":"H Zone","x":3.366,"z":1.862},{"s":"H Zone","x":3.567,"z":1.897},{"s":"H Zone","x":3.8629,"z":1.933},{"s":"H Zone","x":3.8629,"z":1.959},{"s":"H Zone","x":4.3378,"z":1.974},{"s":"H Zone","x":4.4332,"z":2.025},{"s":"H Zone","x":4.9422,"z":2.091},{"s":"H Zone","x":5.6715,"z":2.122},{"s":"H Zone","x":6.5089,"z":2.163},{"s":"H Zone","x":6.998,"z":2.204},{"s":"H Zone","x":8.449,"z":2.245},{"s":"H Zone","x":8.449,"z":2.291},{"s":"H Zone","x":9.6961,"z":2.347},{"s":"H Zone","x":11.372,"z":2.408},{"s":"H Zone","x":14.655,"z":2.474},
{"s":"H1 Zone","x":0.01,"z":-1.024},{"s":"H1 Zone","x":0.01,"z":-1.05},{"s":"H1 Zone","x":0.01,"z":-1.075},{"s":"H1 Zone","x":0.01,"z":-1.101},{"s":"H1 Zone","x":0.01,"z":-1.126},{"s":"H1 Zone","x":0.01,"z":-1.152},{"s":"H1 Zone","x":0.01,"z":-1.177},{"s":"H1 Zone","x":0.01,"z":-1.203},{"s":"H1 Zone","x":0.01,"z":-1.228},{"s":"H1 Zone","x":0.01,"z":-1.254},{"s":"H1 Zone","x":0.01,"z":-1.279},{"s":"H1 Zone","x":0.01,"z":-1.305},{"s":"H1 Zone","x":0.01,"z":-1.33},{"s":"H1 Zone","x":0.01,"z":-1.356},{"s":"H1 Zone","x":0.01,"z":-1.382},{"s":"H1 Zone","x":0.01,"z":-1.407},{"s":"H1 Zone","x":0.01,"z":-1.433},{"s":"H1 Zone","x":0.01,"z":-1.458},{"s":"H1 Zone","x":0.01,"z":-1.484},{"s":"H1 Zone","x":0.01,"z":-1.509},{"s":"H1 Zone","x":0.01,"z":-1.535},{"s":"H1 Zone","x":0.01,"z":-1.56},{"s":"H1 Zone","x":0.01,"z":-1.586},{"s":"H1 Zone","x":0.01,"z":-1.611},{"s":"H1 Zone","x":0.01,"z":-1.637},{"s":"H1 Zone","x":0.01,"z":-1.662},{"s":"H1 Zone","x":0.01,"z":-1.688},{"s":"H1 Zone","x":0.01,"z":-1.713},{"s":"H1 Zone","x":0.01,"z":-1.739},{"s":"H1 Zone","x":0.01,"z":-1.765},{"s":"H1 Zone","x":0.01,"z":-1.79},{"s":"H1 Zone","x":0.01,"z":-1.816},{"s":"H1 Zone","x":0.01,"z":-1.841},{"s":"H1 Zone","x":0.01,"z":-1.907},{"s":"H1 Zone","x":0.01,"z":-1.979},{"s":"H1 Zone","x":0.01,"z":-2.066},{"s":"H1 Zone","x":0.01,"z":-2.168},
{"s":"H1 Zone","x":0.02,"z":-0.758},{"s":"H1 Zone","x":0.02,"z":-0.784},{"s":"H1 Zone","x":0.02,"z":-0.81},{"s":"H1 Zone","x":0.02,"z":-0.835},{"s":"H1 Zone","x":0.02,"z":-0.861},{"s":"H1 Zone","x":0.02,"z":-0.886},{"s":"H1 Zone","x":0.02,"z":-0.912},{"s":"H1 Zone","x":0.02,"z":-0.937},{"s":"H1 Zone","x":0.02,"z":-0.963},{"s":"H1 Zone","x":0.02,"z":-0.988},{"s":"H1 Zone","x":0.02,"z":-1.024},
{"s":"H1 Zone","x":0.03,"z":-0.59},{"s":"H1 Zone","x":0.03,"z":-0.615},{"s":"H1 Zone","x":0.03,"z":-0.641},{"s":"H1 Zone","x":0.03,"z":-0.667},{"s":"H1 Zone","x":0.03,"z":-0.692},{"s":"H1 Zone","x":0.03,"z":-0.718},{"s":"H1 Zone","x":0.03,"z":-0.749},
{"s":"H1 Zone","x":0.04,"z":-0.488},{"s":"H1 Zone","x":0.04,"z":-0.518},{"s":"H1 Zone","x":0.04,"z":-0.549},{"s":"H1 Zone","x":0.04,"z":-0.58},{"s":"H1 Zone","x":0.04,"z":-0.6},
{"s":"H1 Zone","x":0.05,"z":-0.386},{"s":"H1 Zone","x":0.05,"z":-0.416},{"s":"H1 Zone","x":0.05,"z":-0.447},{"s":"H1 Zone","x":0.05,"z":-0.478},{"s":"H1 Zone","x":0.05,"z":-0.498},
{"s":"H1 Zone","x":0.06,"z":-0.304},{"s":"H1 Zone","x":0.06,"z":-0.335},{"s":"H1 Zone","x":0.06,"z":-0.365},{"s":"H1 Zone","x":0.06,"z":-0.396},{"s":"H1 Zone","x":0.06439,"z":-0.309},
{"s":"H1 Zone","x":0.07,"z":-0.212},{"s":"H1 Zone","x":0.07,"z":-0.243},{"s":"H1 Zone","x":0.07,"z":-0.273},{"s":"H1 Zone","x":0.07,"z":-0.304},
{"s":"H1 Zone","x":0.08,"z":-0.161},{"s":"H1 Zone","x":0.08,"z":-0.192},{"s":"H1 Zone","x":0.08,"z":-0.222},
{"s":"H1 Zone","x":0.09,"z":-0.089},{"s":"H1 Zone","x":0.09,"z":-0.12},{"s":"H1 Zone","x":0.09,"z":-0.156},
{"s":"H1 Zone","x":0.1,"z":-0.059},{"s":"H1 Zone","x":0.1,"z":-0.094},
{"s":"H1 Zone","x":0.1101,"z":-0.033},{"s":"H1 Zone","x":0.1191,"z":-0.003},{"s":"H1 Zone","x":0.129,"z":0.033},{"s":"H1 Zone","x":0.1388,"z":0.069},{"s":"H1 Zone","x":0.1503,"z":0.1},{"s":"H1 Zone","x":0.164,"z":0.135},{"s":"H1 Zone","x":0.1789,"z":0.186},{"s":"H1 Zone","x":0.1937,"z":0.237},{"s":"H1 Zone","x":0.2144,"z":0.289},{"s":"H1 Zone","x":0.2356,"z":0.34},{"s":"H1 Zone","x":0.2478,"z":0.365},{"s":"H1 Zone","x":0.2589,"z":0.426},{"s":"H1 Zone","x":0.2723,"z":0.457},{"s":"H1 Zone","x":0.2865,"z":0.493},{"s":"H1 Zone","x":0.2992,"z":0.544},{"s":"H1 Zone","x":0.3148,"z":0.559},{"s":"H1 Zone","x":0.3312,"z":0.631},{"s":"H1 Zone","x":0.3459,"z":0.661},{"s":"H1 Zone","x":0.3639,"z":0.697},{"s":"H1 Zone","x":0.3828,"z":0.733},{"s":"H1 Zone","x":0.3998,"z":0.748},{"s":"H1 Zone","x":0.4206,"z":0.774},{"s":"H1 Zone","x":0.4425,"z":0.784},{"s":"H1 Zone","x":0.4655,"z":0.809},{"s":"H1 Zone","x":0.4862,"z":0.835},{"s":"H1 Zone","x":0.5115,"z":0.835},{"s":"H1 Zone","x":0.5343,"z":0.866},{"s":"H1 Zone","x":0.5621,"z":0.886},{"s":"H1 Zone","x":0.5913,"z":0.917},{"s":"H1 Zone","x":0.6176,"z":0.927},{"s":"H1 Zone","x":0.6357,"z":0.952},{"s":"H1 Zone","x":0.664,"z":0.968},{"s":"H1 Zone","x":0.6985,"z":0.993},{"s":"H1 Zone","x":0.7349,"z":1.019},{"s":"H1 Zone","x":0.762,"z":1.055},{"s":"H1 Zone","x":0.7901,"z":1.09},{"s":"H1 Zone","x":0.8193,"z":1.116},{"s":"H1 Zone","x":0.8495,"z":1.141},{"s":"H1 Zone","x":0.8808,"z":1.177},{"s":"H1 Zone","x":0.9133,"z":1.208},{"s":"H1 Zone","x":0.9471,"z":1.233},{"s":"H1 Zone","x":0.982,"z":1.259},{"s":"H1 Zone","x":1.0183,"z":1.284},{"s":"H1 Zone","x":1.0558,"z":1.32},{"s":"H1 Zone","x":1.0791,"z":1.371},{"s":"H1 Zone","x":1.2294,"z":1.438},{"s":"H1 Zone","x":1.3411,"z":1.463},{"s":"H1 Zone","x":1.5169,"z":1.499},{"s":"H1 Zone","x":1.7534,"z":1.53},{"s":"H1 Zone","x":1.8581,"z":1.565},{"s":"H1 Zone","x":2.5745,"z":1.606},{"s":"H1 Zone","x":2.8288,"z":1.652},{"s":"H1 Zone","x":2.9119,"z":1.693},{"s":"H1 Zone","x":3.3906,"z":1.734},{"s":"H1 Zone","x":3.4401,"z":1.785},{"s":"H1 Zone","x":3.5157,"z":1.836},{"s":"H1 Zone","x":4.4653,"z":1.907},{"s":"H1 Zone","x":4.5306,"z":1.984},{"s":"H1 Zone","x":4.5967,"z":2.066},{"s":"H1 Zone","x":4.6638,"z":2.168},{"s":"H1 Zone","x":4.8358,"z":2.296},{"s":"H1 Zone","x":4.9422,"z":2.475},
{"s":"H2 Zone","x":0.1,"z":-1.693},{"s":"H2 Zone","x":0.1093,"z":-1.101},{"s":"H2 Zone","x":0.1398,"z":-0.748},{"s":"H2 Zone","x":0.1789,"z":-0.472},{"s":"H2 Zone","x":0.2589,"z":-0.232},{"s":"H2 Zone","x":0.3171,"z":-0.003},{"s":"H2 Zone","x":0.3384,"z":0.232},{"s":"H2 Zone","x":0.4299,"z":0.467},{"s":"H2 Zone","x":0.4862,"z":0.748},{"s":"H2 Zone","x":0.9679,"z":1.096},{"s":"H2 Zone","x":7.3622,"z":1.693}
],
"ylab": [{"x":0.01,"z":-2.3263,"t":"0.01"},{"x":0.01,"z":-1.2816,"t":"0.1"},{"x":0.01,"z":0,"t":"0.5"},{"x":0.01,"z":1.2816,"t":"0.9"},{"x":0.01,"z":2.3263,"t":"0.99"}],
"xlab": [{"x":0.01,"z":0,"t":"0.01"},{"x":0.1,"z":0,"t":"0.1"},{"x":1,"z":0,"t":"1"},{"x":10,"z":0,"t":"10"},{"x":100,"z":0,"t":"100"}],
"yticks": [{"x":1,"z":-2.5},{"x":1,"z":-1.5},{"x":1,"z":-0.5},{"x":1,"z":0.5},{"x":1,"z":1.5},{"x":1,"z":2.5}],
"ann": [{"x":6.415,"z":1.596,"t":"Main Zone"},{"x":6.415,"z":1.443,"t":"Inflection Point?"}],
"circ": [{"x":4.26,"z":1.719}]
},
"encoding": {
"x": {"field": "x", "type": "quantitative",
 "scale": {"type": "log", "domain": [0.01, 100], "nice": false},
 "axis": {"values": [0.01,0.02,0.03,0.04,0.05,0.06,0.07,0.08,0.09,0.1,0.2,0.3,0.4,0.5,0.6,0.7,0.8,0.9,1,2,3,4,5,6,7,8,9,10,20,30,40,50,60,70,80,90,100],
  "grid": true, "gridColor": "#333", "gridWidth": 1, "labels": false, "ticks": false, "domain": false,
  "title": "Grade (g/tonne)", "titleFont": "DejaVu Sans", "titleFontSize": 23, "titleFontWeight": "bold", "titleColor": "black", "titlePadding": 9}},
"y": {"field": "z", "type": "quantitative",
 "scale": {"domain": [-2.5, 2.5], "nice": false, "zero": false},
 "axis": {"values": [-2.3263, -1.2816, 0, 1.2816, 2.3263],
  "grid": true, "gridColor": "black", "gridWidth": 2, "labels": false, "ticks": false, "domain": false,
  "title": "Cumulative Normal Probability", "titleFont": "DejaVu Sans", "titleFontSize": 23, "titleFontWeight": "bold", "titleColor": "black", "titlePadding": 38}}
},
"layer": [
{"data": {"name": "pts"},
 "mark": {"type": "point", "opacity": 1, "strokeWidth": 1.3, "size": 100},
 "encoding": {
  "shape": {"field": "s", "type": "nominal",
   "scale": {"domain": ["Y Label","Main Zone","B Zone","C Zone","H Zone","H1 Zone","H2 Zone"],
    "range": ["M0,-1.15L1.15,0L0,1.15L-1.15,0Z","M-0.9,-0.6H0.9V0.6H-0.9Z","M-0.7,-0.4H0.7V0.4H-0.7Z","M-0.7,-0.4H0.7V0.4H-0.7Z","M0,-0.9L1,0.9H-1Z","M-1.1,-1.1H1.1V1.1H-1.1Z","M-1.15,-1.15H1.15V1.15H-1.15Z"]},
   "legend": {"title": null, "orient": "none", "legendX": 1312, "legendY": 367, "strokeColor": "black", "fillColor": "white", "padding": 6, "labelFontSize": 22, "labelFont": "DejaVu Sans", "labelColor": "black", "rowPadding": 13, "labelOffset": 2, "symbolStrokeWidth": 1.2, "symbolSize": 100}},
  "fill": {"field": "s", "type": "nominal",
   "scale": {"domain": ["Y Label","Main Zone","B Zone","C Zone","H Zone","H1 Zone","H2 Zone"],
    "range": ["#000080","#000000","#993300","#0000ff","transparent","#ff0000","#008080"]},
   "legend": {"title": null, "orient": "none", "legendX": 1312, "legendY": 367, "strokeColor": "black", "fillColor": "white", "padding": 6, "labelFontSize": 22, "labelFont": "DejaVu Sans", "labelColor": "black", "rowPadding": 13, "labelOffset": 2, "symbolStrokeWidth": 1.2, "symbolSize": 100}},
  "stroke": {"field": "s", "type": "nominal",
   "scale": {"domain": ["Y Label","Main Zone","B Zone","C Zone","H Zone","H1 Zone","H2 Zone"],
    "range": ["#000080","#000000","#993300","#0000ff","#008000","#ff0000","#008080"]},
   "legend": {"title": null, "orient": "none", "legendX": 1312, "legendY": 367, "strokeColor": "black", "fillColor": "white", "padding": 6, "labelFontSize": 22, "labelFont": "DejaVu Sans", "labelColor": "black", "rowPadding": 13, "labelOffset": 2, "symbolStrokeWidth": 1.2, "symbolSize": 100}}
 }},
{"data": {"name": "yticks"},
 "mark": {"type": "point", "shape": "M-1,0H0", "size": 36, "filled": false, "stroke": "black", "strokeWidth": 1, "opacity": 1}},
{"data": {"name": "ylab"},
 "mark": {"type": "text", "align": "left", "baseline": "middle", "dx": 17, "fontSize": 22, "font": "DejaVu Sans", "color": "black"},
 "encoding": {"text": {"field": "t", "type": "nominal"}}},
{"data": {"name": "xlab"},
 "mark": {"type": "text", "align": "center", "baseline": "middle", "dy": 35, "fontSize": 22, "font": "DejaVu Sans", "color": "black"},
 "encoding": {"text": {"field": "t", "type": "nominal"}}},
{"data": {"name": "ann"},
 "mark": {"type": "text", "align": "left", "baseline": "middle", "fontSize": 22, "font": "DejaVu Sans", "color": "black"},
 "encoding": {"text": {"field": "t", "type": "nominal"}}},
{"data": {"name": "circ"},
 "mark": {"type": "point", "shape": "circle", "size": 6100, "filled": false, "stroke": "black", "strokeWidth": 1.5, "opacity": 1}}
]
}
